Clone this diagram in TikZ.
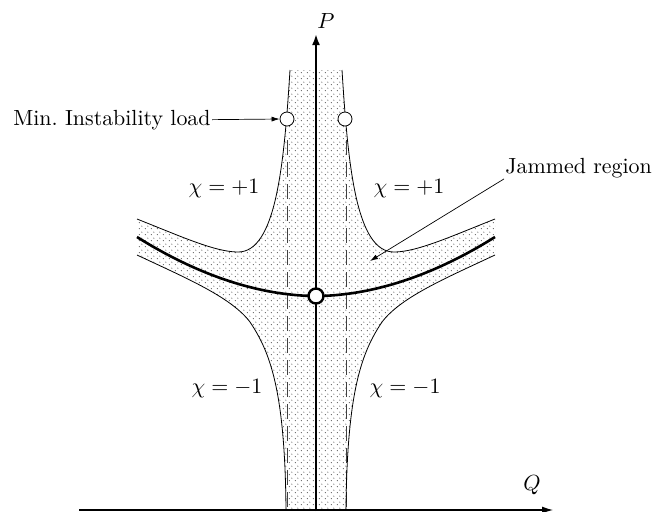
\documentclass[tikz,border=0pt]{standalone}
\usepackage{fontspec}
\usetikzlibrary{arrows.meta,patterns.meta}
\tikzdeclarepattern{
  name=jamdots,
  type=uncolored,
  bounding box={(0pt,0pt) and (3pt,3pt)},
  tile size={(3pt,3pt)},
  code={
    \pgfpathcircle{\pgfpoint{0.75pt}{0.75pt}}{0.3pt}
    \pgfpathcircle{\pgfpoint{2.25pt}{2.25pt}}{0.3pt}
    \pgfusepath{fill}
  }
}
\tikzset{
  bound/.style={line width=0.4pt, black},
  dashline/.style={line width=0.45pt, black!75, dash pattern=on 7.5pt off 3.5pt},
  thickcurve/.style={line width=1.3pt, black},
  paxis/.style={line width=1.2pt, -{Latex[length=5.5pt,width=4pt]}},
  qaxis/.style={line width=0.55pt, -{Latex[length=5.5pt,width=3.5pt]}},
  pointer/.style={line width=0.35pt, -{Latex[length=4pt,width=2.5pt]}},
  opencirc/.style={circle, draw, line width=0.4pt, fill=white, minimum size=7pt, inner sep=0pt},
  centercirc/.style={circle, draw, line width=1.2pt, fill=white, minimum size=7.5pt, inner sep=0pt},
  lbl/.style={inner sep=0.5pt, font=\fontsize{10.95}{13}\selectfont}
}
\begin{document}
\begin{tikzpicture}[x=0.5pt,y=-0.5pt]
\useasboundingbox (0,0) rectangle (663,511);
% jammed region fill
\fill[pattern=jamdots, pattern color=black!75]
  (290,70) .. controls (284,165) and (276,252) .. (238,252)
  .. controls (215,252) and (180,236) .. (137,219)
  -- (137,255) .. controls (186,278) and (231,297) .. (250,322)
  .. controls (270,352) and (285,390) .. (286,510)
  -- (346,510) .. controls (347,390) and (362,352) .. (382,322)
  .. controls (401,297) and (446,278) .. (495,255)
  -- (495,219) .. controls (452,236) and (417,252) .. (394,252)
  .. controls (356,252) and (348,165) .. (342,70) -- cycle;
% dashed lines
\coordinate (dLt) at (287,140); \coordinate (dLb) at (287,510);
\coordinate (dRt) at (346,140); \coordinate (dRb) at (346,510);
\draw[dashline] (dLt) -- (dLb);
\draw[dashline] (dRt) -- (dRb);
% boundaries
\draw[bound] (290,70) .. controls (284,165) and (276,252) .. (238,252)
  .. controls (215,252) and (180,236) .. (137,219);
\draw[bound] (137,255) .. controls (186,278) and (231,297) .. (250,322)
  .. controls (270,352) and (285,390) .. (286,510);
\draw[bound] (346,510) .. controls (347,390) and (362,352) .. (382,322)
  .. controls (401,297) and (446,278) .. (495,255);
\draw[bound] (495,219) .. controls (452,236) and (417,252) .. (394,252)
  .. controls (356,252) and (348,165) .. (342,70);
% thick curve
\draw[thickcurve] plot[domain=-179:179, samples=90] ({316+\x},{296-59*((abs(\x)+0.01)/179)^1.9});
% axes
\coordinate (Pb) at (316,511); \coordinate (Pt) at (316,34);
\coordinate (Qa) at (79,510); \coordinate (Qb) at (553,510);
\draw[paxis] (Pb) -- (Pt);
\draw[qaxis] (Qa) -- (Qb);
\node[lbl, anchor=base] (lblP) at (326,28) {$P$};
\node[lbl, anchor=base] (lblQ) at (532,490) {$Q$};
% circles
\node[opencirc] (c1) at (287,119) {};
\node[opencirc] (c2) at (345,119) {};
\node[centercirc] (c0) at (316,296) {};
% labels
\node[lbl, anchor=base east] (lblmin) at (212,125) {Min.\ Instability load};
\draw[pointer] (lblmin.east) -- (c1.west);
\node[lbl, anchor=base west] (lbljam) at (504,173) {Jammed region};
\coordinate (jtip) at (370,261);
\draw[pointer] (lbljam.south west) -- (jtip);
\node[lbl, anchor=base] (chiUL) at (224,193) {$\chi=+1$};
\node[lbl, anchor=base] (chiUR) at (409,193) {$\chi=+1$};
\node[lbl, anchor=base] (chiLL) at (227,393) {$\chi=-1$};
\node[lbl, anchor=base] (chiLR) at (405,393) {$\chi=-1$};
\end{tikzpicture}
\end{document}
